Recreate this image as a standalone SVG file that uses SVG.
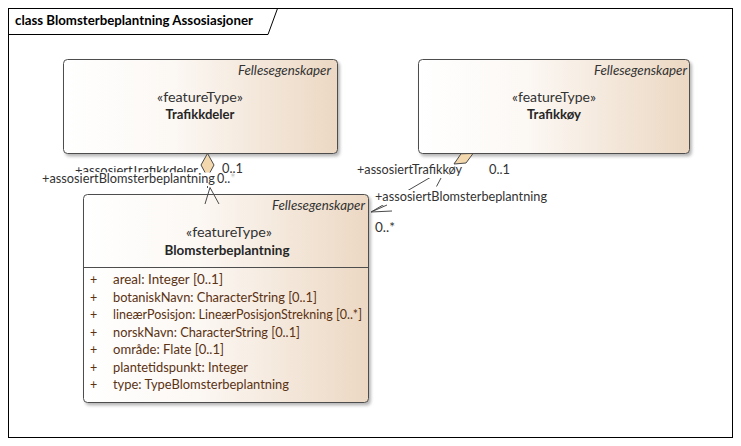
<svg xmlns="http://www.w3.org/2000/svg" width="741" height="446" viewBox="0 0 741 446">
  <defs>
    <linearGradient id="boxFill" x1="0" y1="0" x2="1" y2="0">
      <stop offset="0" stop-color="#ffffff"/>
      <stop offset="0.4" stop-color="#fcf8f4"/>
      <stop offset="1" stop-color="#ecd8c3"/>
    </linearGradient>
    <filter id="shadow" x="-5%" y="-5%" width="115%" height="120%">
      <feDropShadow dx="2" dy="2.5" stdDeviation="1.6" flood-color="#000" flood-opacity="0.28"/>
    </filter>
    <clipPath id="cutRole">
      <rect x="60" y="166" width="145" height="6.5"/>
    </clipPath>
  </defs>
  <style>
    text { font-family: Lato, "Liberation Sans", sans-serif; }
    .frame { fill: #ffffff; stroke: #000000; stroke-width: 1; }
    .title { font-size: 13.5px; font-weight: bold; fill: #000000; }
    .box { fill: url(#boxFill); stroke: #4d4d4d; stroke-width: 1; filter: url(#shadow); }
    .sep { stroke: #4d4d4d; stroke-width: 1; }
    .pkg { font-size: 12.5px; font-style: italic; fill: #333333; text-anchor: end; }
    .stereo { font-size: 12.5px; fill: #333333; text-anchor: middle; }
    .name { font-size: 12.5px; font-weight: bold; fill: #262626; text-anchor: middle; }
    .attr { font-size: 12.5px; fill: #5b3213; }
    .line { stroke: #4a4a4a; stroke-width: 1; fill: none; }
    .agg { fill: #f3d8ae; stroke: #4a4a4a; stroke-width: 1; }
    .label { font-size: 12.5px; fill: #333333; }
    .bg { fill: #ffffff; }
  </style>

  <!-- diagram frame with name tab -->
  <rect class="frame" x="8.5" y="8.5" width="724" height="429"/>
  <path d="M8.5,34.5 H268 L277.5,8.5" fill="none" stroke="#000" stroke-width="1"/>
  <text class="title" x="15" y="25" textLength="238" lengthAdjust="spacingAndGlyphs">class Blomsterbeplantning Assosiasjoner</text>

  <g id="Trafikkdeler">
    <rect class="box" x="63.5" y="59.5" width="274" height="94" rx="4"/>
    <text class="pkg" x="331" y="75" textLength="93" lengthAdjust="spacingAndGlyphs">Fellesegenskaper</text>
    <text class="stereo" x="200" y="102" textLength="86" lengthAdjust="spacingAndGlyphs">«featureType»</text>
    <text class="name" x="200" y="119" textLength="69" lengthAdjust="spacingAndGlyphs">Trafikkdeler</text>
  </g>

  <g id="Trafikkoy">
    <rect class="box" x="418.5" y="59.5" width="271" height="94" rx="4"/>
    <text class="pkg" x="687" y="75" textLength="93" lengthAdjust="spacingAndGlyphs">Fellesegenskaper</text>
    <text class="stereo" x="554" y="102" textLength="84" lengthAdjust="spacingAndGlyphs">«featureType»</text>
    <text class="name" x="554" y="119" textLength="54" lengthAdjust="spacingAndGlyphs">Trafikkøy</text>
  </g>

  <g id="Blomsterbeplantning">
    <rect class="box" x="83.5" y="194.5" width="285" height="208" rx="4"/>
    <line class="sep" x1="83.5" y1="267.5" x2="368.5" y2="267.5"/>
    <text class="pkg" x="365" y="210" textLength="93" lengthAdjust="spacingAndGlyphs">Fellesegenskaper</text>
    <text class="stereo" x="229" y="237" textLength="86" lengthAdjust="spacingAndGlyphs">«featureType»</text>
    <text class="name" x="227" y="255" textLength="125" lengthAdjust="spacingAndGlyphs">Blomsterbeplantning</text>
    <g class="attr">
      <text x="90" y="284">+</text><text x="113" y="284" textLength="110" lengthAdjust="spacingAndGlyphs">areal: Integer [0..1]</text>
      <text x="90" y="302">+</text><text x="113" y="302" textLength="204" lengthAdjust="spacingAndGlyphs">botaniskNavn: CharacterString [0..1]</text>
      <text x="90" y="319">+</text><text x="113" y="319" textLength="249" lengthAdjust="spacingAndGlyphs">lineærPosisjon: LineærPosisjonStrekning [0..*]</text>
      <text x="90" y="337">+</text><text x="113" y="337" textLength="187" lengthAdjust="spacingAndGlyphs">norskNavn: CharacterString [0..1]</text>
      <text x="90" y="354">+</text><text x="113" y="354" textLength="111" lengthAdjust="spacingAndGlyphs">område: Flate [0..1]</text>
      <text x="90" y="372">+</text><text x="113" y="372" textLength="135" lengthAdjust="spacingAndGlyphs">plantetidspunkt: Integer</text>
      <text x="90" y="389">+</text><text x="113" y="389" textLength="176" lengthAdjust="spacingAndGlyphs">type: TypeBlomsterbeplantning</text>
    </g>
  </g>

  <g id="connectors">
    <!-- Blomsterbeplantning to Trafikkdeler -->
    <line class="line" x1="207.5" y1="176" x2="207.5" y2="188"/>
    <polyline class="line" points="205,204 210,187.5 219,204"/>
    <polygon class="agg" points="207.5,153.5 214,165 207.5,177 201,165"/>
    <text class="label" x="75" y="174.5" textLength="123" lengthAdjust="spacingAndGlyphs" clip-path="url(#cutRole)">+assosiertTrafikkdeler</text>
    <text class="label" x="222" y="173" textLength="21" lengthAdjust="spacingAndGlyphs">0..1</text>
    <rect class="bg" x="40" y="172.5" width="176" height="13.5"/>
    <rect class="bg" x="216" y="175" width="21" height="11"/>
    <text class="label" x="42" y="183" textLength="173" lengthAdjust="spacingAndGlyphs">+assosiertBlomsterbeplantning</text>
    <text class="label" x="217" y="183">0..<tspan fill="#c8c8c8">*</tspan></text>

    <!-- Blomsterbeplantning to Trafikkøy -->
    <line class="line" x1="455" y1="163" x2="371" y2="212"/>
    <line class="line" x1="441" y1="178" x2="436.5" y2="186.5"/>
    <rect class="bg" x="355" y="163" width="108" height="15"/>
    <rect class="bg" x="373" y="190" width="176" height="15"/>
    <polygon class="agg" points="473,153.5 461,153.8 454,164 466,163"/>
    <polyline class="line" points="387,205 371,212 392,211"/>
    <text class="label" x="357" y="174" textLength="105" lengthAdjust="spacingAndGlyphs">+assosiertTrafikkøy</text>
    <text class="label" x="489" y="174" textLength="21" lengthAdjust="spacingAndGlyphs">0..1</text>
    <text class="label" x="375" y="201" textLength="172" lengthAdjust="spacingAndGlyphs">+assosiertBlomsterbeplantning</text>
    <text class="label" x="375" y="232" textLength="20" lengthAdjust="spacingAndGlyphs">0..*</text>
  </g>
</svg>
